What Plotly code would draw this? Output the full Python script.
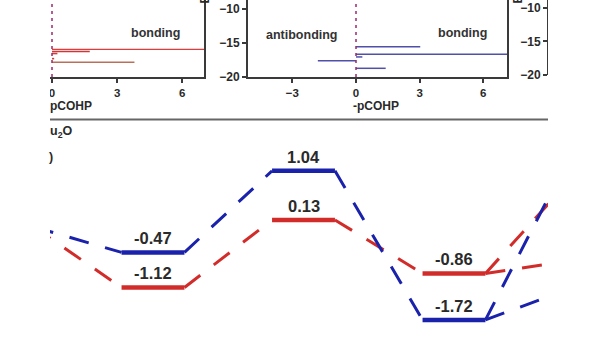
import plotly.graph_objects as go

W, H = 600, 338

# ---------------- data ----------------
# pCOHP panel (left, red): energy (eV) and -pCOHP value
cohp_a_energy = [-15.93, -16.25, -16.55, -17.30, -17.84]
cohp_a_value = [8.0, 1.74, 0.25, 0.10, 3.80]
cohp_a_color = ["#e03a3a", "#d43434", "#c84040", "#c84040", "#b8705a"]

# pCOHP panel (middle, blue)
cohp_b_energy = [-15.54, -16.66, -17.05, -17.60, -18.72]
cohp_b_value = [3.03, 8.0, 0.30, -1.80, 1.40]
cohp_b_color = "#5050aa"

cohp_x_ticks = [-3, 0, 3, 6]
cohp_y_ticks = [-20, -15, -10]

# energy profile (eV)
states = [0, 1, 2, 3]
blue_energy = [0.00, -0.47, 1.04, -1.72]
red_energy = [0.00, -1.12, 0.13, -0.86]
# branches leaving state 3 toward state 4 (outside the visible crop)
blue_next = [1.43, -1.12]
red_next = [0.93, -0.62]

BLUE = "#1a22ac"
RED = "#d22c2a"
AX = "#3a3a3a"
TXT = "#2a2a2a"
FONT = "Liberation Sans, Arial, sans-serif"


def px(x):
    return x / W


def py(y):
    return 1 - y / H


fig = go.Figure()

# ---- panel A (red pCOHP) ----
for e, v, c in zip(cohp_a_energy, cohp_a_value, cohp_a_color):
    fig.add_trace(go.Scatter(x=[0, v], y=[e, e], mode="lines",
                             line=dict(color=c, width=1.6 if v < 5 else 1.3),
                             xaxis="x", yaxis="y", showlegend=False, hoverinfo="skip"))

# ---- panel B (blue pCOHP) ----
for e, v in zip(cohp_b_energy, cohp_b_value):
    fig.add_trace(go.Scatter(x=[0, v], y=[e, e], mode="lines",
                             line=dict(color=cohp_b_color, width=1.5),
                             xaxis="x2", yaxis="y2", showlegend=False, hoverinfo="skip"))

# ---- panel C stub (only its y axis labels visible) ----
fig.add_trace(go.Scatter(x=[0], y=[-15], mode="markers", marker=dict(opacity=0),
                         xaxis="x3", yaxis="y3", showlegend=False, hoverinfo="skip"))

# ---- energy profile ----
HW = 0.209


def levels(es, extra):
    xs, ys = [], []
    for s, e in zip(states, es):
        xs += [s - HW, s + HW, None]
        ys += [e, e, None]
    for e in extra:
        xs += [states[-1] + 1 - HW, states[-1] + 1 + HW, None]
        ys += [e, e, None]
    return xs, ys


def connectors(es, extra):
    xs, ys = [], []
    for k in range(len(states) - 1):
        xs += [states[k] + HW, states[k + 1] - HW, None]
        ys += [es[k], es[k + 1], None]
    for e in extra:
        xs += [states[-1] + HW, states[-1] + 1 - HW, None]
        ys += [es[-1], e, None]
    return xs, ys


for es, extra, col in [(red_energy, red_next, RED), (blue_energy, blue_next, BLUE)]:
    cx, cy = connectors(es, extra)
    fig.add_trace(go.Scatter(x=cx, y=cy, mode="lines",
                             line=dict(color=col, width=3, dash="20px,17px"),
                             xaxis="x4", yaxis="y4", showlegend=False, hoverinfo="skip"))
    lx, ly = levels(es, extra)
    fig.add_trace(go.Scatter(x=lx, y=ly, mode="lines",
                             line=dict(color=col, width=4.5),
                             xaxis="x4", yaxis="y4", showlegend=False, hoverinfo="skip"))

annotations = []
for es in (blue_energy, red_energy):
    for s, e in zip(states[1:], es[1:]):
        annotations.append(dict(x=s, y=e, xref="x4", yref="y4", text=f"{e:.2f}",
                                showarrow=False, yanchor="middle", yshift=14,
                                font=dict(family=FONT, size=16.5, color=TXT, weight="bold")))

tick_font = dict(family=FONT, size=11.5, color=TXT, weight="bold")

# text labels in the COHP panels
for txt, x, y in [("bonding", 155, 33), ("antibonding", 302, 35), ("bonding", 462, 33)]:
    annotations.append(dict(x=px(x), y=py(y), xref="paper", yref="paper", text=txt,
                            showarrow=False, xanchor="center", yanchor="middle",
                            font=dict(family=FONT, size=12.5, color="#333333", weight="bold")))
annotations.append(dict(x=px(50), y=py(106), xref="paper", yref="paper", text="pCOHP",
                        showarrow=False, xanchor="left", yanchor="middle", xshift=-2,
                        font=dict(family=FONT, size=12, color=TXT, weight="bold")))
annotations.append(dict(x=px(376), y=py(106), xref="paper", yref="paper", text="-pCOHP",
                        showarrow=False, xanchor="center", yanchor="middle",
                        font=dict(family=FONT, size=12, color=TXT, weight="bold")))
for x in (205, 518):
    annotations.append(dict(x=px(x), y=py(6), xref="paper", yref="paper", text="Energy (eV)",
                            textangle=-90, showarrow=False, xanchor="center", yanchor="bottom",
                            font=dict(family=FONT, size=12, color=TXT, weight="bold")))
annotations.append(dict(x=px(50), y=py(132), xref="paper", yref="paper", text="u<sub>2</sub>O",
                        showarrow=False, xanchor="left", yanchor="middle", xshift=-2,
                        font=dict(family=FONT, size=12.5, color=TXT, weight="bold")))
annotations.append(dict(x=px(49), y=py(157), xref="paper", yref="paper", text=")",
                        showarrow=False, xanchor="left", yanchor="middle", xshift=-2,
                        font=dict(family=FONT, size=12.5, color=TXT, weight="bold")))

shapes = [
    # zero reference lines in COHP panels
    dict(type="line", xref="x", yref="y domain", x0=0, x1=0, y0=0, y1=1,
         line=dict(color="#9a2a6a", width=1.5, dash="3px,4px")),
    dict(type="line", xref="x2", yref="y2 domain", x0=0, x1=0, y0=0, y1=1,
         line=dict(color="#9a2a6a", width=1.5, dash="3px,4px")),
    # separator line
    dict(type="line", xref="paper", yref="paper", x0=px(50), x1=px(548), y0=py(119.5), y1=py(119.5),
         line=dict(color="#666666", width=2)),
    # crop masks (the source figure is cut at both sides)
    dict(type="rect", xref="paper", yref="paper", x0=-0.01, x1=px(50), y0=-0.01, y1=1.01,
         fillcolor="white", line=dict(width=0), layer="above"),
    dict(type="rect", xref="paper", yref="paper", x0=px(548), x1=1.01, y0=-0.01, y1=1.01,
         fillcolor="white", line=dict(width=0), layer="above"),
]

top_dom = [py(77), 1]
ypx = 6.8

common_x = dict(showgrid=False, zeroline=False, showline=True, linecolor=AX, linewidth=2,
                ticks="outside", ticklen=4, tickwidth=1.5, tickcolor=AX, tickfont=tick_font,
                tickvals=cohp_x_ticks, mirror=False, automargin=False)
common_y = dict(showgrid=False, zeroline=False, showline=True, linecolor=AX, linewidth=2,
                mirror=True, ticks="outside", ticklen=4, tickwidth=1.5, tickcolor=AX,
                tickfont=dict(family=FONT, size=12, color=TXT, weight="bold"),
                tickvals=cohp_y_ticks, automargin=False)

fig.update_layout(
    width=W, height=H, margin=dict(l=0, r=0, t=0, b=0, pad=0, autoexpand=False),
    paper_bgcolor="white", plot_bgcolor="white",
    xaxis=dict(domain=[0, px(204)], range=[-52 / 21.7, (204 - 52) / 21.7], anchor="y", **common_x),
    yaxis=dict(domain=top_dom, range=[-20, -20 + 77 / ypx], anchor="x",
               **{**common_y, "showticklabels": False, "ticks": ""}),
    xaxis2=dict(domain=[px(248), px(507)], range=[(248 - 356) / 21.2, (507 - 356) / 21.2],
                anchor="y2", **common_x),
    yaxis2=dict(domain=top_dom, range=[-20, -20 + 77 / ypx], anchor="x2", **common_y),
    xaxis3=dict(domain=[px(549), 1], range=[-5, 7], anchor="y3", visible=False, automargin=False),
    yaxis3=dict(domain=[py(75), 1], range=[-20, -20 + 75 / 6.72], anchor="x3", **common_y),
    xaxis4=dict(domain=[0, 1], range=[1 - 153 / 150.5, 1 + 447 / 150.5], anchor="y4",
                visible=False, automargin=False),
    yaxis4=dict(domain=[0, py(125)], range=[(227 - 338) / 54, (227 - 125) / 54], anchor="x4",
                visible=False, automargin=False),
    annotations=annotations,
    shapes=shapes,
)

fig.write_html("out.html")
